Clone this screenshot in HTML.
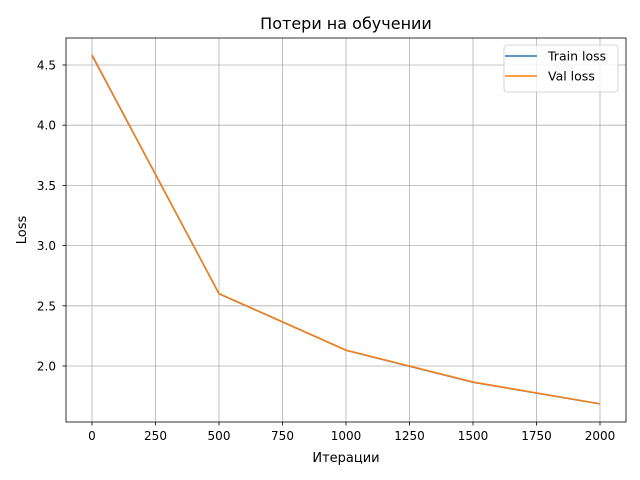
<!DOCTYPE html>
<html><head><meta charset="utf-8">
<style>
body{margin:0;background:#fff;}
svg{display:block;font-family:"DejaVu Sans","Liberation Sans",sans-serif;}
</style></head>
<body>
<svg id="chart" width="640" height="480"></svg>
<script>
const iterations=[0,500,1000,1500,2000];
const trainLoss=[4.58,2.60,2.13,1.865,1.685];
const valLoss=[4.585,2.602,2.132,1.867,1.686];
const xTicks=[0,250,500,750,1000,1250,1500,1750,2000];
const yTicks=[2.0,2.5,3.0,3.5,4.0,4.5];

const L=66,R=626,T=38,B=422;
const xs=v=>92+(v-0)*0.254;
const ys=v=>65+(4.5-v)*120.4;
const svg=document.getElementById('chart');
const NS='http://www.w3.org/2000/svg';
function mk(tag,attrs,parent){const e=document.createElementNS(NS,tag);for(const k in attrs)e.setAttribute(k,attrs[k]);(parent||svg).appendChild(e);return e;}

const grid=mk('g',{});


xTicks.forEach(t=>{
  const x=xs(t);
  mk('line',{x1:x,x2:x,y1:T,y2:B,stroke:'#b0b0b0','stroke-width':0.8},grid);
  mk('line',{x1:x,x2:x,y1:B,y2:B+3.5,stroke:'#000','stroke-width':0.8});
  const tx=mk('text',{x:x,y:B+18,'font-size':12,'text-anchor':'middle'});
  tx.textContent=t;
  
  
});
yTicks.forEach(t=>{
  const y=ys(t);
  mk('line',{x1:L,x2:R,y1:y,y2:y,stroke:'#b0b0b0','stroke-width':0.8},grid);
  mk('line',{x1:L-3.5,x2:L,y1:y,y2:y,stroke:'#000','stroke-width':0.8});
  const tx=mk('text',{x:L-10,y:y+4.5,'font-size':12,'text-anchor':'end'});
  tx.textContent=t.toFixed(1);
  
  
});

function line(data,color,name){
  const p=mk('polyline',{points:iterations.map((x,i)=>xs(x)+','+ys(data[i])).join(' '),fill:'none',stroke:color,'stroke-width':1.5});
  
  
}
line(trainLoss,'#1f77b4','train-loss-line');
line(valLoss,'#ff7f0e','val-loss-line');

const frame=mk('rect',{x:L,y:T,width:R-L,height:B-T,fill:'none',stroke:'#000','stroke-width':0.8});



const title=mk('text',{x:(L+R)/2,y:29,'font-size':16,'text-anchor':'middle'});
title.textContent='Потери на обучении';


const xl=mk('text',{x:(L+R)/2,y:462,'font-size':13,'text-anchor':'middle'});
xl.textContent='Итерации';


const yl=mk('text',{x:26,y:(T+B)/2,'font-size':13,'text-anchor':'middle',transform:'rotate(-90 26 '+((T+B)/2)+')'});
yl.textContent='Loss';



const lg=mk('g',{});


mk('rect',{x:504,y:45,width:114,height:47,rx:3,fill:'#fff','fill-opacity':0.8,stroke:'#ccc','stroke-width':0.8},lg);
[['Train loss','#1f77b4',56],['Val loss','#ff7f0e',76]].forEach(([n,c,y])=>{
  mk('line',{x1:505,x2:537,y1:y,y2:y,stroke:c,'stroke-width':1.5},lg);
  const t=mk('text',{x:548,y:y+4.5,'font-size':12.5},lg);
  t.textContent=n;
  
  
});
</script>
</body></html>
